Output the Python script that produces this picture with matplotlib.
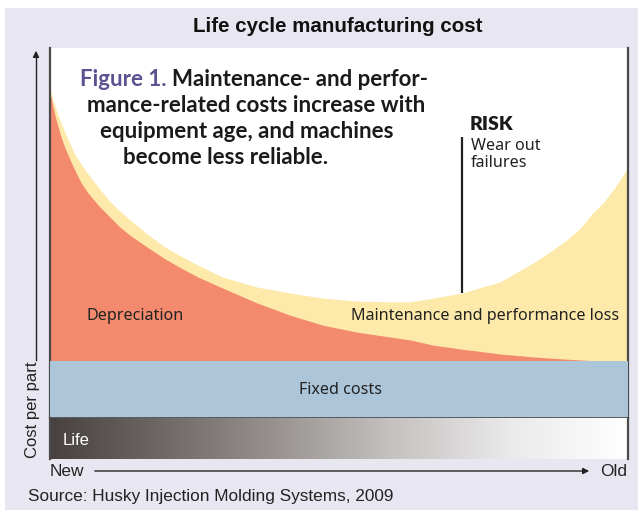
import numpy as np
import matplotlib
matplotlib.use("Agg")
import matplotlib.pyplot as plt
from matplotlib.colors import LinearSegmentedColormap
from matplotlib.patches import Rectangle

# equipment age, 0 = new, 100 = old
age = [0, 0.2, 0.5, 0.9, 1.4, 1.9, 2.6, 3.5, 4.3, 5.4, 6.6, 8.3, 10.0, 12.1, 14.0, 17.0,
       19.9, 22.7, 25.6, 29.9, 35.8, 41.5, 47.2, 53.1, 58.8, 62.3, 66.3, 71.3, 77.9, 83.6,
       86.5, 89.4, 91.7, 93.9, 95.7, 97.4, 98.6, 100]
fixed_cost = 15.4
depreciation = [71.6, 71.4, 68.9, 66.2, 63.3, 60.6, 57.6, 54.3, 51.6, 48.1, 45.4, 42.2,
                39.5, 36.2, 33.8, 30.6, 27.6, 25.1, 22.7, 19.7, 15.7, 12.4, 9.7, 7.8, 6.5,
                5.7, 4.3, 3.2, 1.9, 1.1, 0.8, 0.5, 0.3, 0.1, 0.05, 0, 0, 0]
maintenance = [1.9, 1.4, 1.6, 2.7, 3.2, 3.8, 4.1, 4.3, 4.3, 5.1, 5.1, 4.9, 4.3, 4.3, 4.1,
               3.5, 3.2, 3.2, 3.2, 3.0, 4.3, 6.0, 7.3, 8.4, 9.5, 10.3, 12.7, 15.2, 19.5,
               25.4, 28.7, 32.2, 35.6, 39.9, 42.7, 46.2, 48.9, 52.4]
risk_age = 71.3

title = "Life cycle manufacturing cost"
caption_lines = ["mance-related costs increase with", "equipment age, and machines",
                 "become less reliable."]
source = "Source: Husky Injection Molding Systems, 2009"

W, H = 638, 513
BG = "#e8e7f1"
SALMON = "#f38a6d"
YELLOW = "#fde9aa"
BLUE = "#adc5d8"
EDGE = "#4a4a4a"
SANS = ["Liberation Sans", "DejaVu Sans"]
LABEL = ["Noto Sans", "DejaVu Sans"]
BOLD = ["Lato", "DejaVu Sans"]

def fx(x):
    return x / W

def fy(y):
    # y measured from the top of the image
    return 1 - y / H

fig = plt.figure(figsize=(W / 100, H / 100), dpi=100, facecolor="white")
fig.patches.append(Rectangle((fx(5), fy(510)), fx(633), 502 / H, transform=fig.transFigure,
                             facecolor=BG, edgecolor="none", zorder=-10))

# main cost chart
ax = fig.add_axes([fx(50), fy(418), fx(578), 370 / H])
ax.set_xlim(0, 100)
ax.set_ylim(0, 100)
ax.set_facecolor("white")
age_a = np.array(age)
dep_top = fixed_cost + np.array(depreciation)
tot_top = dep_top + np.array(maintenance)
ax.fill_between(age_a, 0, fixed_cost, color=BLUE, lw=0, zorder=3)
ax.fill_between(age_a, fixed_cost, dep_top, color=SALMON, lw=0, zorder=2)
ax.fill_between(age_a, dep_top - 0.3, tot_top, color=YELLOW, lw=0, zorder=1)
ax.plot([risk_age, risk_age], [np.interp(risk_age, age_a, tot_top), 76], color="#222222",
        lw=1.6, zorder=4, solid_capstyle="butt")
ax.set_xticks([])
ax.set_yticks([])
for s in ["left", "right"]:
    ax.spines[s].set_color(EDGE)
    ax.spines[s].set_linewidth(1.6)
ax.spines["top"].set_visible(False)
ax.spines["bottom"].set_color(EDGE)
ax.spines["bottom"].set_linewidth(1.2)
ax.spines["bottom"].set_zorder(5)

ax.text(6.4, 27.6, "Depreciation", fontsize=11.6, family=LABEL, color="#222222",
        va="center", zorder=6)
ax.text(98.5, 27.6, "Maintenance and performance loss", fontsize=11.6, family=LABEL,
        color="#222222", va="center", ha="right", zorder=6)
ax.text(50.2, 7.6, "Fixed costs", fontsize=11.6, family=LABEL, color="#222222",
        va="center", ha="center", zorder=6)
ax.text(72.6, 79.4, "RISK", fontsize=14, family=BOLD, weight="heavy", color="#1a1a1a",
        va="center", zorder=6)
ax.text(72.8, 71.3, "Wear out\nfailures", fontsize=11.6, family=LABEL, color="#222222",
        va="center", linespacing=1.1, zorder=6)

# life bar
lax = fig.add_axes([fx(50), fy(459), fx(578), 41 / H])
life_cmap = LinearSegmentedColormap.from_list(
    "life", ["#48413f", "#6f6a68", "#9a9593", "#c6c3c2", "#ebeaea", "#ffffff"])
lax.imshow(np.linspace(0, 1, 400)[None, :], cmap=life_cmap, aspect="auto",
           extent=[0, 100, 0, 1])
lax.set_xlim(0, 100)
lax.set_ylim(0, 1)
lax.set_xticks([])
lax.set_yticks([])
for s in ["top", "bottom"]:
    lax.spines[s].set_visible(False)
for s in ["left", "right"]:
    lax.spines[s].set_color(EDGE)
    lax.spines[s].set_linewidth(1.6)
lax.text(2.2, 0.45, "Life", color="white", fontsize=12, family=SANS, va="center")

# title and caption
fig.text(fx(338), fy(27), title, ha="center", va="center", fontsize=14.8, weight="bold",
         family=SANS, color="#111111")
t1 = fig.text(fx(80), fy(80), "Figure 1.", ha="left", va="center", fontsize=16,
              weight="bold", family=BOLD, color="#5d5290")
fig.canvas.draw()
bb = t1.get_window_extent()
fig.text(bb.x1 / W + fx(5), fy(80), "Maintenance- and perfor-", ha="left", va="center",
         fontsize=16, weight="bold", family=BOLD, color="#1a1a1a")
for i, (line, cx) in enumerate(zip(caption_lines, [256, 247, 226])):
    fig.text(fx(cx), fy(106 + 25.5 * i), line, ha="center", va="center", fontsize=16,
             weight="bold", family=BOLD, color="#1a1a1a")

# axis annotations
fig.text(fx(33), fy(410), "Cost per part", rotation=90, ha="center", va="center",
         fontsize=12, family=SANS, color="#222222")
fig.add_artist(plt.Line2D([fx(36), fx(36)], [fy(360), fy(56)], color="#222222", lw=1))
ax.annotate("", xy=(36, H - 48), xytext=(36, H - 60), xycoords="figure pixels",
            textcoords="figure pixels",
            arrowprops=dict(arrowstyle="-|>", color="#222222", lw=1, mutation_scale=9))
fig.text(fx(50), fy(472), "New", ha="left", va="center", fontsize=12.4, family=SANS,
         color="#222222")
fig.text(fx(627), fy(472), "Old", ha="right", va="center", fontsize=12.4, family=SANS,
         color="#222222")
ax.annotate("", xy=(592, H - 471), xytext=(92, H - 471), xycoords="figure pixels",
            textcoords="figure pixels",
            arrowprops=dict(arrowstyle="-|>", color="#222222", lw=1, mutation_scale=9))
fig.text(fx(28), fy(497), source, ha="left", va="center", fontsize=12.4, family=SANS,
         color="#222222")

fig.savefig("out.png", dpi=100, facecolor=fig.get_facecolor())
